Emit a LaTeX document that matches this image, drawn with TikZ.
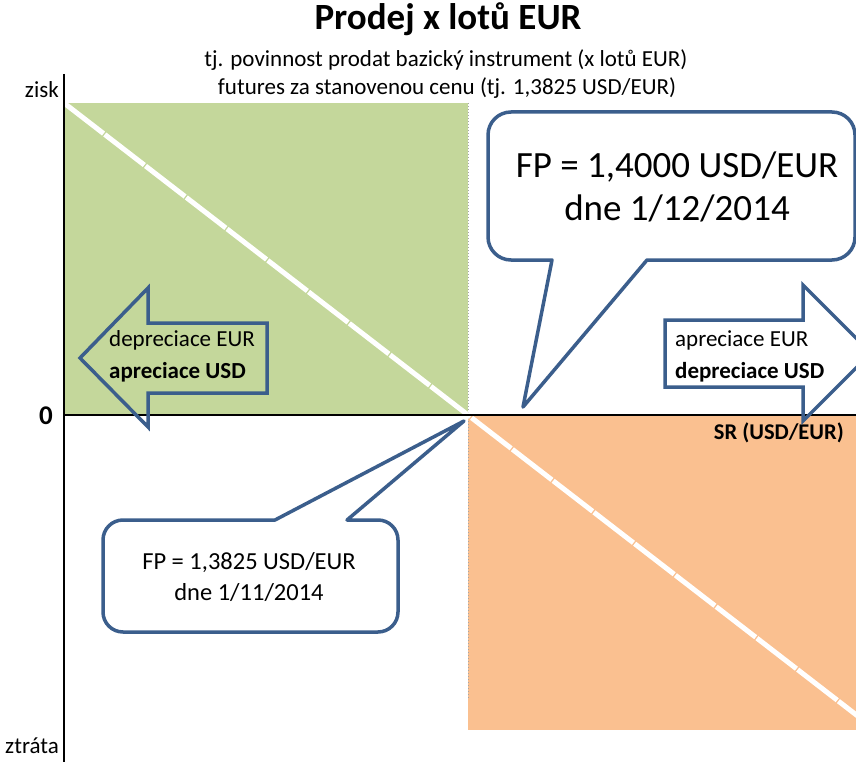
\documentclass[tikz,border=0pt]{standalone}
\usepackage{fontspec}
\setmainfont{Carlito}
\definecolor{gainfill}{HTML}{C4D79B}
\definecolor{lossfill}{HTML}{FAC090}
\definecolor{calloutblue}{HTML}{3B5E8C}
\tikzset{
  lbl/.style={inner sep=0pt, font=\fontsize{23}{32}\selectfont},
  arrowshape/.style={draw=calloutblue, line width=3.5pt, line join=miter},
  callout/.style={draw=calloutblue, fill=white, line width=3.5pt, line join=round},
  payoff/.style={white, line width=5pt, dash pattern=on 50pt off 1.5pt}
}
\begin{document}
\begin{tikzpicture}[x=1pt,y=-1pt]
\useasboundingbox (0,0) rectangle (856,762);
\clip (0,0) rectangle (856,762);

% profit / loss regions
\fill[gainfill] (64,103) rectangle (468,415);
\fill[lossfill] (468,415) rectangle (856,730);
\draw[gray!70, line width=1pt, dotted] (468,103) -- (468,699);

% payoff line of the short futures position
\coordinate (pstart) at (64,103);
\coordinate (pend) at (874,728.6);
\draw[payoff] (pstart) -- (pend);

% axes
\coordinate (ytop) at (64,74);
\coordinate (ybot) at (64,762);
\coordinate (xl) at (64,415);
\coordinate (xr) at (856,415);
\draw[line width=2pt] (ytop) -- (ybot);
\draw[line width=2pt] (xl) -- (xr);

% titles
\node[inner sep=0pt, font=\fontsize{37}{44}\selectfont\bfseries] (title) at (448,19) {Prodej x lotů EUR};
\node[lbl] (sub1) at (446,60) {tj. povinnost prodat bazický instrument (x lotů EUR)};
\node[lbl] (sub2) at (447,88) {futures za stanovenou cenu (tj. 1,3825 USD/EUR)};

% axis labels
\node[lbl, anchor=east] (zisk) at (59,90) {zisk};
\node[lbl, anchor=east] (ztrata) at (59,746) {ztráta};
\node[inner sep=0pt, font=\fontsize{27}{30}\selectfont\bfseries] (zero) at (46,416) {0};
\node[lbl, anchor=east, font=\fontsize{22.5}{28}\selectfont\bfseries] (sr) at (844,433) {SR (USD/EUR)};

% direction arrows
\draw[arrowshape] (80,358) -- (148,288) -- (148,323) -- (267,323) -- (267,393)
  -- (148,393) -- (148,427) -- cycle;
\node[lbl, anchor=west, align=left] (leftlbl) at (109,356)
  {depreciace EUR\\\textbf{apreciace USD}};
\draw[arrowshape] (665,320) -- (803,320) -- (803,285) -- (871,353) -- (803,421)
  -- (803,387) -- (665,387) -- cycle;
\node[lbl, anchor=west, align=left] (rightlbl) at (675,356)
  {apreciace EUR\\\textbf{depreciace USD}};

% callout: futures price at maturity
\draw[callout] (670,112) [rounded corners=23pt] -- (855,112) -- (855,260)
  [sharp corners] -- (647,260) -- (523,407) -- (552,260)
  [rounded corners=23pt] -- (488,260) -- (488,112) -- cycle;
\node[inner sep=0pt, align=center, font=\fontsize{37}{43}\selectfont] (fpend) at (677,187)
  {FP = 1,4000 USD/EUR\\dne 1/12/2014};

% callout: agreed futures price
\draw[callout] (250,520) [rounded corners=20pt] -- (103,520) -- (103,632) -- (398,632)
  -- (398,520) [sharp corners] -- (347,520) -- (464,421) -- (275,520)
  [rounded corners=20pt] -- cycle;
\node[inner sep=0pt, align=center, font=\fontsize{24.5}{31}\selectfont] (fpstart) at (249,577)
  {FP = 1,3825 USD/EUR\\dne 1/11/2014};
\end{tikzpicture}
\end{document}
